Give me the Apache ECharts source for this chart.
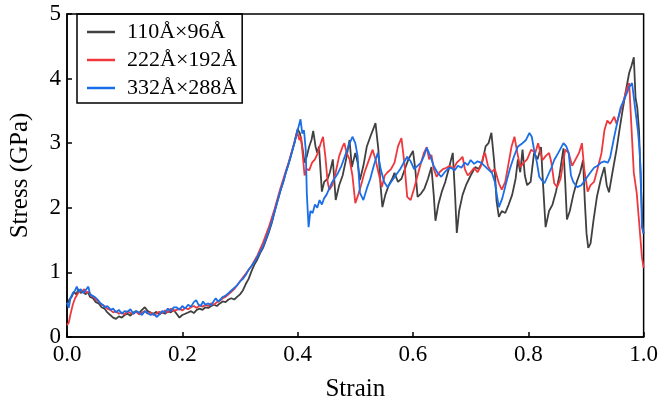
<!DOCTYPE html>
<html>
<head>
<meta charset="utf-8">
<script src="https://cdn.jsdelivr.net/npm/echarts@6/dist/echarts.min.js"></script>
<style>html,body{margin:0;padding:0;background:#fff;}#c{width:661px;height:411px;}</style>
</head>
<body>
<div id="c"></div>
<script>
const seriesNames = ['110Å×96Å', '222Å×192Å', '332Å×288Å'];
const xTicks = [0, 0.2, 0.4, 0.6, 0.8, 1.0];
const yTicks = [0, 1, 2, 3, 4, 5];

const strainA = [0.000,0.004,0.008,0.012,0.016,0.020,0.024,0.028,0.032,0.036,0.040,0.045,0.050,0.055,0.060,0.065,0.070,0.075,0.080,0.085,0.090,0.095,0.100,0.105,0.110,0.115,0.120,0.125,0.130,0.135,0.140,0.145,0.150,0.155,0.160,0.165,0.170,0.175,0.180,0.185,0.190,0.195,0.200,0.205,0.210,0.215,0.220,0.225,0.230,0.235,0.240,0.245,0.250,0.255,0.260,0.265,0.270,0.275,0.280,0.285,0.290,0.295,0.300,0.305,0.310,0.315,0.320,0.325,0.330,0.335,0.340,0.345,0.350,0.355,0.360,0.365,0.370,0.375,0.380,0.385,0.390,0.395,0.400,0.404,0.408,0.412,0.416,0.420,0.424,0.427,0.431,0.434,0.437,0.442,0.446,0.452,0.456,0.461,0.466,0.472,0.478,0.484,0.490,0.494,0.500,0.504,0.508,0.514,0.520,0.526,0.535,0.540,0.544,0.547,0.552,0.558,0.564,0.568,0.574,0.580,0.586,0.592,0.600,0.604,0.608,0.614,0.620,0.626,0.632,0.636,0.639,0.644,0.650,0.656,0.662,0.669,0.673,0.676,0.680,0.686,0.692,0.700,0.708,0.714,0.720,0.726,0.731,0.736,0.741,0.745,0.749,0.754,0.760,0.766,0.772,0.778,0.782,0.786,0.790,0.794,0.798,0.804,0.810,0.816,0.822,0.826,0.830,0.836,0.842,0.848,0.854,0.861,0.864,0.867,0.872,0.878,0.884,0.890,0.895,0.898,0.901,0.904,0.908,0.913,0.919,0.926,0.932,0.936,0.940,0.946,0.953,0.958,0.963,0.969,0.975,0.979,0.983,0.986,0.989,0.992,0.995,0.998,1.000];
const stressA = [0.50,0.58,0.62,0.70,0.66,0.74,0.68,0.72,0.66,0.70,0.62,0.60,0.54,0.52,0.46,0.44,0.38,0.34,0.30,0.28,0.32,0.30,0.34,0.36,0.33,0.38,0.40,0.37,0.42,0.46,0.40,0.38,0.36,0.39,0.35,0.38,0.36,0.40,0.38,0.42,0.36,0.30,0.34,0.36,0.38,0.40,0.37,0.42,0.44,0.42,0.46,0.45,0.48,0.50,0.48,0.52,0.55,0.54,0.58,0.60,0.58,0.62,0.66,0.72,0.82,0.90,1.02,1.12,1.20,1.30,1.38,1.50,1.62,1.76,1.94,2.10,2.26,2.40,2.56,2.70,2.86,3.04,3.22,3.15,2.95,2.70,2.80,2.95,3.05,3.19,2.95,2.85,2.95,2.25,2.40,2.45,2.55,2.75,2.12,2.35,2.50,2.75,3.05,2.63,2.85,2.70,2.43,2.65,2.95,3.10,3.31,2.90,2.32,2.01,2.20,2.35,2.45,2.54,2.40,2.45,2.60,2.75,2.88,2.60,2.17,2.22,2.30,2.45,2.63,2.20,1.80,2.05,2.25,2.40,2.60,2.85,2.20,1.61,1.95,2.20,2.35,2.50,2.63,2.60,2.70,2.95,3.00,3.16,2.70,2.10,1.86,1.95,1.92,2.05,2.20,2.45,2.75,2.55,2.90,2.50,2.35,2.40,2.85,2.75,2.94,2.30,1.70,1.95,2.05,2.25,2.50,2.92,2.40,1.82,1.95,2.20,2.40,2.55,2.74,2.10,1.60,1.38,1.45,1.80,2.17,2.45,2.63,2.35,2.24,2.55,2.90,3.20,3.48,3.80,4.09,4.20,4.33,3.70,3.55,3.20,2.40,1.75,1.60];

const strainB = [0.000,0.003,0.006,0.010,0.014,0.018,0.022,0.026,0.030,0.034,0.038,0.042,0.046,0.050,0.055,0.060,0.065,0.070,0.075,0.080,0.085,0.090,0.095,0.100,0.105,0.110,0.115,0.120,0.125,0.130,0.135,0.140,0.145,0.150,0.155,0.160,0.165,0.170,0.175,0.180,0.185,0.190,0.195,0.200,0.205,0.210,0.215,0.220,0.225,0.230,0.235,0.240,0.245,0.250,0.255,0.260,0.265,0.270,0.275,0.280,0.285,0.290,0.295,0.300,0.305,0.310,0.315,0.320,0.325,0.330,0.335,0.340,0.345,0.350,0.355,0.360,0.365,0.370,0.375,0.380,0.385,0.390,0.395,0.399,0.403,0.406,0.409,0.412,0.416,0.420,0.425,0.430,0.435,0.440,0.444,0.448,0.452,0.455,0.460,0.466,0.472,0.478,0.481,0.485,0.490,0.495,0.500,0.505,0.510,0.516,0.522,0.530,0.535,0.540,0.546,0.551,0.556,0.562,0.568,0.574,0.580,0.585,0.590,0.596,0.602,0.608,0.614,0.619,0.624,0.628,0.632,0.636,0.641,0.646,0.652,0.658,0.664,0.670,0.676,0.682,0.686,0.690,0.695,0.700,0.706,0.712,0.718,0.722,0.725,0.730,0.736,0.742,0.749,0.754,0.760,0.766,0.771,0.776,0.781,0.786,0.792,0.798,0.805,0.812,0.817,0.821,0.825,0.830,0.836,0.840,0.845,0.850,0.856,0.864,0.870,0.876,0.882,0.888,0.893,0.897,0.903,0.908,0.914,0.920,0.927,0.932,0.937,0.942,0.949,0.953,0.958,0.965,0.970,0.975,0.978,0.983,0.988,0.992,0.997,1.000];
const stressB = [0.18,0.22,0.35,0.50,0.60,0.66,0.72,0.70,0.74,0.68,0.70,0.64,0.62,0.58,0.55,0.50,0.48,0.44,0.42,0.38,0.40,0.36,0.38,0.35,0.40,0.37,0.36,0.39,0.35,0.38,0.40,0.36,0.38,0.34,0.36,0.39,0.37,0.41,0.38,0.44,0.40,0.42,0.44,0.41,0.45,0.43,0.46,0.48,0.45,0.49,0.47,0.50,0.48,0.52,0.50,0.54,0.56,0.60,0.62,0.66,0.70,0.74,0.80,0.86,0.92,0.98,1.04,1.10,1.18,1.26,1.36,1.46,1.58,1.70,1.84,1.98,2.14,2.30,2.44,2.58,2.72,2.88,3.02,3.18,3.05,3.10,2.80,2.50,2.60,2.58,2.70,2.75,2.85,3.00,3.10,2.80,2.40,2.28,2.35,2.55,2.80,2.95,3.00,2.85,2.75,2.50,2.07,2.20,2.35,2.55,2.70,2.90,2.75,2.55,2.32,2.50,2.55,2.60,2.70,2.95,3.08,2.70,2.17,2.12,2.30,2.50,2.70,2.85,2.94,2.75,2.82,2.60,2.48,2.55,2.60,2.62,2.65,2.60,2.70,2.75,2.79,2.60,2.50,2.55,2.62,2.55,2.65,2.80,2.85,2.65,2.55,2.60,2.38,2.28,2.40,2.70,2.95,3.10,2.85,2.63,2.70,2.75,2.90,2.85,3.00,2.85,2.74,2.80,2.85,2.70,2.38,2.32,2.45,2.90,2.85,2.65,2.75,2.85,3.00,2.60,2.25,2.35,2.40,2.60,2.85,3.20,3.35,3.30,3.41,3.30,3.45,3.65,3.82,3.93,3.40,2.54,2.23,1.80,1.24,1.07];

const strainC = [0.000,0.003,0.006,0.010,0.014,0.017,0.020,0.024,0.028,0.032,0.037,0.040,0.044,0.048,0.054,0.058,0.062,0.066,0.070,0.076,0.080,0.085,0.090,0.095,0.100,0.105,0.110,0.115,0.120,0.125,0.130,0.135,0.140,0.145,0.150,0.156,0.160,0.165,0.170,0.175,0.180,0.185,0.190,0.195,0.200,0.205,0.210,0.215,0.220,0.224,0.228,0.232,0.236,0.240,0.245,0.250,0.255,0.258,0.262,0.266,0.270,0.275,0.280,0.285,0.290,0.295,0.300,0.305,0.310,0.315,0.320,0.325,0.330,0.335,0.340,0.345,0.350,0.355,0.360,0.365,0.370,0.375,0.380,0.385,0.390,0.395,0.400,0.405,0.408,0.411,0.414,0.416,0.419,0.422,0.426,0.430,0.434,0.438,0.442,0.446,0.450,0.454,0.460,0.466,0.470,0.476,0.482,0.488,0.495,0.500,0.504,0.508,0.514,0.520,0.526,0.532,0.539,0.544,0.550,0.556,0.562,0.570,0.578,0.584,0.590,0.596,0.602,0.608,0.614,0.619,0.624,0.630,0.636,0.642,0.649,0.655,0.660,0.666,0.672,0.678,0.684,0.690,0.695,0.700,0.706,0.712,0.718,0.724,0.730,0.737,0.742,0.746,0.749,0.755,0.762,0.768,0.775,0.782,0.790,0.796,0.802,0.806,0.810,0.815,0.819,0.824,0.828,0.834,0.840,0.845,0.852,0.858,0.861,0.866,0.870,0.874,0.878,0.885,0.892,0.900,0.908,0.914,0.920,0.926,0.932,0.938,0.942,0.949,0.955,0.960,0.966,0.971,0.975,0.980,0.985,0.990,0.993,0.995,0.997,1.000];
const stressC = [0.53,0.45,0.60,0.68,0.72,0.78,0.70,0.74,0.68,0.72,0.78,0.66,0.64,0.62,0.57,0.52,0.50,0.46,0.48,0.42,0.44,0.38,0.42,0.36,0.40,0.39,0.43,0.36,0.40,0.38,0.34,0.40,0.37,0.34,0.36,0.31,0.35,0.40,0.38,0.44,0.40,0.46,0.46,0.42,0.48,0.44,0.50,0.47,0.54,0.57,0.50,0.48,0.55,0.50,0.52,0.49,0.56,0.60,0.55,0.58,0.62,0.64,0.68,0.72,0.76,0.80,0.86,0.90,0.96,1.04,1.10,1.16,1.24,1.32,1.40,1.52,1.64,1.78,1.94,2.10,2.26,2.40,2.56,2.70,2.86,3.02,3.20,3.37,3.15,3.20,2.90,2.20,1.70,1.95,1.92,2.05,2.00,2.12,2.05,2.15,2.20,2.28,2.40,2.48,2.54,2.65,2.80,2.95,3.10,3.00,2.80,2.23,2.12,2.30,2.45,2.65,2.85,2.60,2.40,2.32,2.40,2.50,2.60,2.70,2.79,2.72,2.60,2.65,2.70,2.80,2.93,2.80,2.65,2.55,2.48,2.55,2.60,2.62,2.58,2.65,2.62,2.70,2.66,2.74,2.68,2.72,2.70,2.65,2.60,2.54,2.40,2.17,2.01,2.15,2.40,2.60,2.79,2.95,3.00,3.05,3.16,3.10,2.90,2.70,2.48,2.42,2.38,2.50,2.62,2.74,2.85,2.95,3.00,2.95,2.85,2.50,2.40,2.32,2.35,2.45,2.55,2.62,2.65,2.70,2.72,2.70,2.78,3.10,3.35,3.55,3.67,3.78,3.87,3.93,3.56,3.20,2.90,2.54,1.70,1.60];

const colors = ['#404040', '#f0383c', '#1a6ee8'];
const zip = (xs, ys) => xs.map((x, i) => [x, ys[i]]);
const dataSets = [zip(strainA, stressA), zip(strainB, stressB), zip(strainC, stressC)];

const chart = echarts.init(document.getElementById('c'), null, {renderer: 'canvas'});
const font = 'Liberation Serif';
chart.setOption({
  animation: false,
  backgroundColor: '#fff',
  textStyle: {fontFamily: font},
  grid: {left: 55, right: 16, top: 14, bottom: 74, show: true, borderColor: '#000', borderWidth: 1.5, backgroundColor: 'transparent'},
  legend: {
    left: 77, top: 14, orient: 'vertical',
    data: seriesNames.map((n, i) => ({name: n, icon: 'rect', itemStyle: {color: colors[i]}})),
    itemWidth: 28, itemHeight: 2.5, itemGap: 6,
    padding: [7, 5, 4, 10],
    borderColor: '#000', borderWidth: 1.5,
    textStyle: {fontFamily: font, fontSize: 22, color: '#000', padding: [0, 0, 0, 7]}
  },
  xAxis: {
    type: 'value', min: xTicks[0], max: xTicks[xTicks.length - 1], interval: 0.2,
    name: 'Strain', nameLocation: 'middle', nameGap: 40,
    nameTextStyle: {fontFamily: font, fontSize: 25, color: '#000'},
    axisLine: {show: true, lineStyle: {color: '#000', width: 1.5}},
    axisTick: {show: true, inside: true, length: 5, lineStyle: {color: '#000', width: 1.5}},
    axisLabel: {fontFamily: font, fontSize: 23, color: '#000', margin: 6, formatter: v => v.toFixed(1)},
    splitLine: {show: false}
  },
  yAxis: {
    type: 'value', min: yTicks[0], max: yTicks[yTicks.length - 1], interval: 1,
    name: 'Stress (GPa)', nameLocation: 'middle', nameGap: 34,
    nameTextStyle: {fontFamily: font, fontSize: 25, color: '#000'},
    axisLine: {show: true, lineStyle: {color: '#000', width: 1.5}},
    axisTick: {show: true, inside: true, length: 5, lineStyle: {color: '#000', width: 1.5}},
    axisLabel: {fontFamily: font, fontSize: 23, color: '#000', margin: 6},
    splitLine: {show: false}
  },
  series: seriesNames.map((n, i) => ({
    name: n, type: 'line', data: dataSets[i], symbol: 'none', showSymbol: false,
    lineStyle: {color: colors[i], width: 1.8}, itemStyle: {color: colors[i]},
    z: 2 + i
  }))
});
</script>
</body>
</html>
